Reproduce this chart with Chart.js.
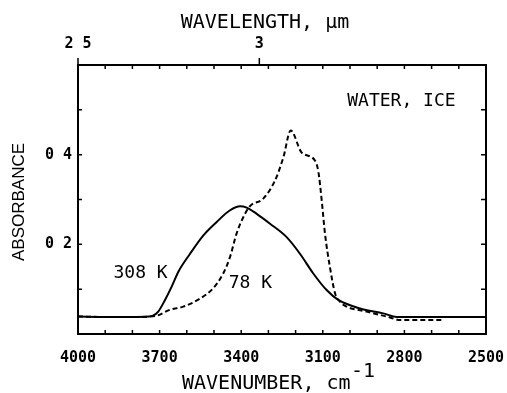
<!DOCTYPE html>
<html>
<head>
<meta charset="utf-8">
<script src="https://cdn.jsdelivr.net/npm/chart.js@4.4.1/dist/chart.umd.min.js"></script>
<style>
  html, body { margin: 0; padding: 0; background: #fff; }
  canvas { display: block; }
</style>
</head>
<body>
<canvas id="chart" width="507" height="393"></canvas>
<script>
// 308 K (water) - solid
const wn308 = [4000, 3900, 3800, 3740, 3724, 3705, 3680, 3656, 3631, 3588, 3539, 3490, 3441, 3404, 3380, 3343, 3294, 3233, 3184, 3135, 3086, 3043, 2963, 2878, 2828, 2700, 2500];
const abs308 = [0.039, 0.038, 0.038, 0.039, 0.041, 0.050, 0.076, 0.105, 0.139, 0.179, 0.220, 0.250, 0.276, 0.285, 0.282, 0.268, 0.246, 0.216, 0.179, 0.135, 0.098, 0.076, 0.057, 0.046, 0.038, 0.038, 0.038];

// 78 K (ice) - dashed
const wn78 = [4000, 3900, 3800, 3717, 3662, 3613, 3551, 3503, 3466, 3441, 3417, 3392, 3368, 3319, 3276, 3245, 3218, 3178, 3129, 3116, 3104, 3092, 3074, 3055, 3037, 3012, 2939, 2853, 2816, 2663];
const abs78 = [0.039, 0.038, 0.038, 0.040, 0.054, 0.061, 0.079, 0.102, 0.135, 0.172, 0.224, 0.261, 0.285, 0.302, 0.342, 0.394, 0.454, 0.405, 0.387, 0.361, 0.298, 0.224, 0.150, 0.091, 0.072, 0.061, 0.050, 0.037, 0.031, 0.031];

// axes
const wnMin = 2500, wnMax = 4000, wnStep = 100, wnLabelStep = 300;
const absMin = 0, absMax = 0.6, absStep = 0.1;
const absLabels = { "0.2": "0 2", "0.4": "0 4" };
const wavelengthTicks = [2.5, 3];
const wavelengthLabels = ["2 5", "3"];

// text on the plot (data coordinates)
const notes = [
    { text: "WATER, ICE", wn: 2811, abs: 0.519 },
    { text: "308 K", wn: 3770, abs: 0.135 },
    { text: "78 K", wn: 3366, abs: 0.112 },
];

const tickFont = { family: "DejaVu Sans Mono", size: 15, weight: "bold" };
const mono = "DejaVu Sans Mono";

const toPoints = (xs, ys) => xs.map((x, i) => ({ x: x, y: ys[i] }));

const framePlugin = {
    id: "frame",
    afterDatasetsDraw(chart) {
        const ctx = chart.ctx;
        const a = chart.chartArea;
        const x = chart.scales.x, x2 = chart.scales.x2, y = chart.scales.y;
        ctx.save();
        ctx.strokeStyle = "#000";
        ctx.lineWidth = 2;
        ctx.strokeRect(a.left, a.top, a.right - a.left, a.bottom - a.top);

        ctx.lineWidth = 1.5;
        ctx.beginPath();
        // bottom ticks, inward
        x.ticks.forEach(t => {
            const px = x.getPixelForValue(t.value);
            ctx.moveTo(px, a.bottom);
            ctx.lineTo(px, a.bottom - 4);
        });
        // top ticks: minor inward, labelled ones outward
        x2.ticks.forEach(t => {
            const px = x2.getPixelForValue(t.value);
            if (t.major) {
                ctx.moveTo(px, a.top);
                ctx.lineTo(px, a.top - 7);
            } else {
                ctx.moveTo(px, a.top);
                ctx.lineTo(px, a.top + 4);
            }
        });
        // left / right ticks, inward
        y.ticks.forEach(t => {
            const py = y.getPixelForValue(t.value);
            ctx.moveTo(a.left, py);
            ctx.lineTo(a.left + 4, py);
            ctx.moveTo(a.right, py);
            ctx.lineTo(a.right - 5, py);
        });
        ctx.stroke();

        ctx.fillStyle = "#000";
        ctx.textAlign = "center";
        ctx.textBaseline = "middle";
        ctx.font = "18px '" + mono + "'";
        notes.forEach(n => {
            ctx.fillText(n.text, x.getPixelForValue(n.wn), y.getPixelForValue(n.abs));
        });

        // axis titles
        ctx.font = "20px '" + mono + "'";
        ctx.textBaseline = "alphabetic";
        ctx.fillText("WAVELENGTH, \u03bcm", 265, 28);
        ctx.textAlign = "left";
        ctx.fillText("WAVENUMBER, cm", 182, 389);
        ctx.fillText("-1", 351, 377);

        ctx.translate(19, 202);
        ctx.rotate(-Math.PI / 2);
        ctx.textAlign = "center";
        ctx.textBaseline = "middle";
        ctx.font = "17px 'Liberation Sans'";
        ctx.fillText("ABSORBANCE", 0, 0);
        ctx.restore();
    }
};

new Chart(document.getElementById("chart"), {
    type: "line",
    plugins: [framePlugin],
    data: {
        datasets: [
            {
                label: "308 K",
                data: toPoints(wn308, abs308),
                borderColor: "#000",
                borderWidth: 2,
                pointRadius: 0,
                cubicInterpolationMode: "monotone",
                xAxisID: "x",
                yAxisID: "y",
            },
            {
                label: "78 K",
                data: toPoints(wn78, abs78),
                borderColor: "#000",
                borderWidth: 2,
                borderDash: [5, 3],
                pointRadius: 0,
                cubicInterpolationMode: "monotone",
                xAxisID: "x",
                yAxisID: "y",
            },
        ],
    },
    options: {
        responsive: false,
        devicePixelRatio: 1,
        animation: false,
        layout: { padding: 0 },
        plugins: { legend: { display: false }, tooltip: { enabled: false } },
        scales: {
            x: {
                type: "linear",
                position: "bottom",
                reverse: true,
                min: wnMin,
                max: wnMax,
                grid: { display: false, drawTicks: false },
                border: { display: false },
                ticks: {
                    stepSize: wnStep,
                    autoSkip: false,
                    maxRotation: 0,
                    padding: 15,
                    color: "#000",
                    font: tickFont,
                    callback: v => (Math.round(wnMax - v) % wnLabelStep === 0 ? String(v) : ""),
                },
                afterFit: s => {
                    s.height = 59;
                    s.paddingLeft = 0;
                    s.paddingRight = 0;
                },
            },
            x2: {
                type: "linear",
                position: "top",
                reverse: true,
                min: wnMin,
                max: wnMax,
                grid: { display: false, drawTicks: false },
                border: { display: false },
                afterBuildTicks: s => {
                    const ticks = [];
                    for (let v = wnMin; v <= wnMax; v += wnStep) {
                        if (v !== wnMax) ticks.push({ value: v });
                    }
                    wavelengthTicks.forEach(um => ticks.push({ value: 10000 / um, major: true }));
                    ticks.sort((p, q) => p.value - q.value);
                    s.ticks = ticks;
                },
                ticks: {
                    autoSkip: false,
                    maxRotation: 0,
                    padding: 12,
                    color: "#000",
                    font: tickFont,
                    callback: v => {
                        const i = wavelengthTicks.findIndex(um => Math.abs(10000 / um - v) < 0.01);
                        return i >= 0 ? wavelengthLabels[i] : "";
                    },
                },
                afterFit: s => {
                    s.height = 65;
                    s.paddingLeft = 0;
                    s.paddingRight = 0;
                },
            },
            y: {
                position: "left",
                min: absMin,
                max: absMax,
                grid: { display: false, drawTicks: false },
                border: { display: false },
                ticks: {
                    stepSize: absStep,
                    padding: 6,
                    color: "#000",
                    font: tickFont,
                    callback: v => absLabels[v.toFixed(1)] || "",
                },
                afterFit: s => {
                    s.width = 78;
                    s.paddingTop = 0;
                    s.paddingBottom = 0;
                },
            },
            y2: {
                position: "right",
                min: absMin,
                max: absMax,
                grid: { display: false, drawTicks: false },
                border: { display: false },
                ticks: { display: false },
                afterFit: s => { s.width = 21; },
            },
        },
    },
});
</script>
</body>
</html>
